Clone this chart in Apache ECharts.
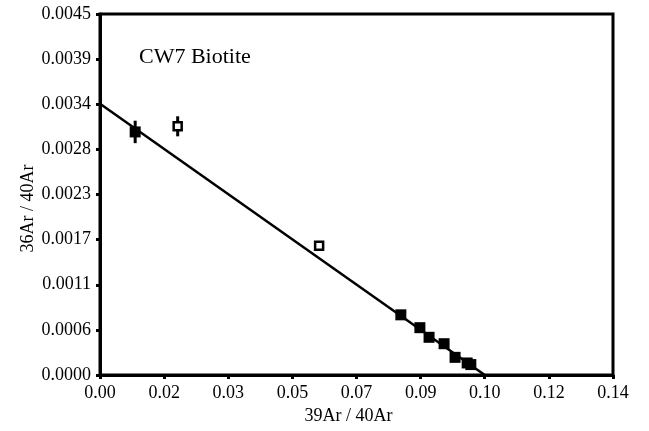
<!DOCTYPE html>
<html>
<head>
<meta charset="utf-8">
<script src="https://cdn.jsdelivr.net/npm/echarts@6/dist/echarts.min.js"></script>
<style>
  html, body { margin: 0; padding: 0; background: #fff; }
  #chart { width: 649px; height: 431px; }
</style>
</head>
<body>
<div id="chart"></div>
<script>
// tick labels as printed on the figure (rounded values of evenly spaced ticks)
const xTickLabels = ['0.00', '0.02', '0.03', '0.05', '0.07', '0.09', '0.10', '0.12', '0.14'];
const yTickLabels = ['0.0000', '0.0006', '0.0011', '0.0017', '0.0023', '0.0028', '0.0034', '0.0039', '0.0045'];

// filled squares (steps used in the isochron)
const filledX = [0.0096, 0.0821, 0.0873, 0.0898, 0.0939, 0.0969, 0.1002, 0.1012];
const filledY = [0.00303, 0.00075, 0.00059, 0.00047, 0.00039, 0.00022, 0.00015, 0.00013];
const filledErr = [0.00014, 0, 0, 0, 0, 0, 0, 0];

// open squares (excluded steps)
const openX = [0.0212, 0.0598];
const openY = [0.00310, 0.00161];
const openErr = [0.000125, 0];

// regression line end points
const fitX = [0, 0.1050];
const fitY = [0.00338, 0];

const xMax = 0.14, xInterval = xMax / 8;
const yMax = 0.0045, yInterval = yMax / 8;

const serif = 'Liberation Serif';

const filledData = filledX.map((x, i) => [x, filledY[i]]);
const openData = openX.map((x, i) => [x, openY[i]]);
const errData = filledX.map((x, i) => [x, filledY[i] - filledErr[i], filledY[i] + filledErr[i]])
  .concat(openX.map((x, i) => [x, openY[i] - openErr[i], openY[i] + openErr[i]]))
  .filter(d => d[2] > d[1]);

const chart = echarts.init(document.getElementById('chart'));

chart.setOption({
  animation: false,
  backgroundColor: '#fff',
  title: {
    text: 'CW7 Biotite',
    left: 134,
    top: 41,
    textStyle: { fontFamily: serif, fontSize: 22, fontWeight: 'normal', color: '#000' }
  },
  grid: {
    left: 100, right: 36, top: 14, bottom: 56,
    show: true, borderColor: '#000', borderWidth: 3
  },
  xAxis: {
    type: 'value',
    min: 0, max: xMax, interval: xInterval,
    name: '39Ar / 40Ar',
    nameLocation: 'middle',
    nameGap: 32,
    nameMoveOverlap: false,
    nameTextStyle: { fontFamily: serif, fontSize: 18, color: '#000', padding: [0, 16, 0, 0] },
    axisLine: { lineStyle: { color: '#000', width: 3 } },
    axisTick: { length: 4, lineStyle: { color: '#000', width: 3 } },
    axisLabel: {
      margin: 9, fontFamily: serif, fontSize: 18, color: '#000',
      formatter: v => xTickLabels[Math.round(v / xInterval)]
    },
    splitLine: { show: false }
  },
  yAxis: {
    type: 'value',
    min: 0, max: yMax, interval: yInterval,
    name: '36Ar / 40Ar',
    nameLocation: 'middle',
    nameGap: 63,
    nameMoveOverlap: false,
    nameTextStyle: { fontFamily: serif, fontSize: 18, color: '#000', padding: [0, 28, 0, 0] },
    axisLine: { lineStyle: { color: '#000', width: 3 } },
    axisTick: { length: 4, lineStyle: { color: '#000', width: 3 } },
    axisLabel: {
      margin: 9, fontFamily: serif, fontSize: 18, color: '#000',
      formatter: v => yTickLabels[Math.round(v / yInterval)]
    },
    splitLine: { show: false }
  },
  series: [
    {
      type: 'line',
      data: fitX.map((x, i) => [x, fitY[i]]),
      symbol: 'none',
      lineStyle: { color: '#000', width: 2.5 },
      z: 2
    },
    {
      type: 'custom',
      data: errData,
      renderItem: (params, api) => {
        const top = api.coord([api.value(0), api.value(2)]);
        const bot = api.coord([api.value(0), api.value(1)]);
        return {
          type: 'line',
          shape: { x1: top[0], y1: top[1], x2: bot[0], y2: bot[1] },
          style: { stroke: '#000', lineWidth: 3 }
        };
      },
      z: 3
    },
    {
      type: 'scatter',
      data: filledData,
      symbol: 'rect',
      symbolSize: 11,
      itemStyle: { color: '#000', opacity: 1 },
      z: 4
    },
    {
      type: 'scatter',
      data: openData,
      symbol: 'rect',
      symbolSize: 8,
      itemStyle: { color: '#fff', borderColor: '#000', borderWidth: 2.5, opacity: 1 },
      z: 4
    }
  ]
});
</script>
</body>
</html>
